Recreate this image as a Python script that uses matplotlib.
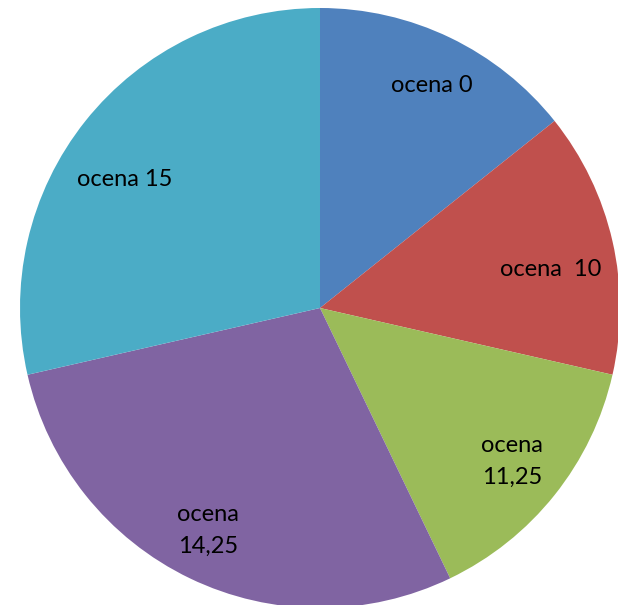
import numpy as np
import matplotlib.pyplot as plt

# Dane wykresu
labels = ["ocena 0", "ocena  10", "ocena\n11,25", "ocena\n14,25", "ocena 15"]
values = [1, 1, 1, 2, 2]
colors = ["#4F81BD", "#C0504D", "#9BBB59", "#8064A2", "#4BACC6"]

# Położenie etykiet (odległość od środka, przesunięcie kąta w stopniach)
label_dist = [0.83, 0.78, 0.82, 0.83, 0.78]
label_shift = [-1.0, -3.5, 0.0, -1.0, 5.3]

plt.rcParams["font.family"] = ["Lato", "DejaVu Sans"]

fig = plt.figure(figsize=(6.18, 6.05), dpi=100)
ax = fig.add_axes([20 / 618, -3 / 605, 600 / 618, 600 / 605])

wedges, texts = ax.pie(
    values,
    labels=labels,
    colors=colors,
    startangle=90,
    counterclock=False,
    labeldistance=0.81,
    textprops={"fontsize": 17, "color": "black", "ha": "center", "va": "center",
               "linespacing": 1.6},
)
for w, t, d, s in zip(wedges, texts, label_dist, label_shift):
    ang = np.deg2rad((w.theta1 + w.theta2) / 2 + s)
    t.set_position((d * np.cos(ang), d * np.sin(ang)))

ax.set_xlim(-1, 1)
ax.set_ylim(-1, 1)
ax.set_aspect("equal")
ax.axis("off")

fig.savefig("out.png", dpi=100)
